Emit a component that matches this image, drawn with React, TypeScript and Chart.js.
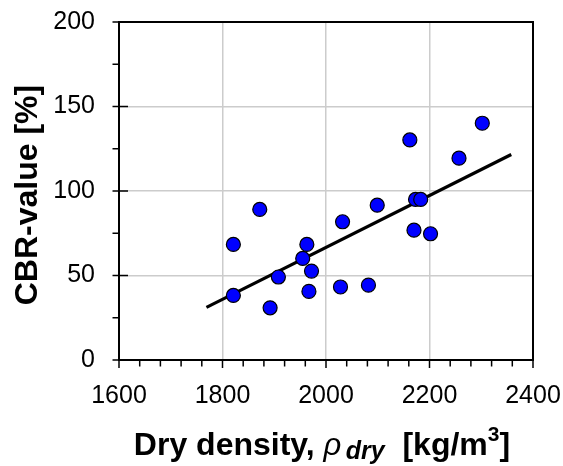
import React, { useEffect, useRef } from "react";
import { Chart, registerables } from "chart.js";
Chart.register(...registerables);

const densityValues = [1821, 1821, 1872, 1892, 1908, 1955, 1963, 1972, 1967, 2028, 2032, 2082, 2099, 2162, 2173, 2183, 2170, 2202, 2257, 2302];
const cbrValues = [68.4, 38.2, 89.1, 30.9, 49.1, 60.1, 68.4, 52.6, 40.6, 43.2, 81.8, 44.3, 91.6, 130.2, 95.0, 95.0, 76.8, 74.7, 119.4, 140.1];
const trendX = [1769, 2358];
const trendY = [31.1, 121.6];
const xTickValues = [1600, 1800, 2000, 2200, 2400];
const yTickValues = [0, 50, 100, 150, 200];
const xMinorStep = 40;
const yMinorStep = 25;

const FONT = "'Liberation Sans', Arial, sans-serif";

const framePlugin = {
  id: "frame",
  beforeDatasetsDraw(chart: any) {
    const { ctx, chartArea } = chart;
    const xs = chart.scales.x;
    const ys = chart.scales.y;
    const { left, right, top, bottom } = chartArea;
    ctx.save();
    ctx.strokeStyle = "#000";
    ctx.lineWidth = 2;
    ctx.strokeRect(left, top, right - left, bottom - top);
    ctx.lineWidth = 1.5;
    for (let v = xs.min; v <= xs.max + 0.001; v += xMinorStep) {
      const px = xs.getPixelForValue(v);
      const major = xTickValues.includes(v);
      ctx.beginPath();
      ctx.moveTo(px, bottom);
      ctx.lineTo(px, bottom + (major ? 8 : 6.5));
      ctx.stroke();
    }
    for (let v = ys.min; v <= ys.max + 0.001; v += yMinorStep) {
      const py = ys.getPixelForValue(v);
      const major = yTickValues.includes(v);
      ctx.beginPath();
      ctx.moveTo(left - 6.5, py);
      ctx.lineTo(major ? left + 9 : left, py);
      ctx.stroke();
    }
    ctx.restore();
  },
  afterDraw(chart: any) {
    const { ctx } = chart;
    ctx.save();
    ctx.fillStyle = "#000";
    ctx.save();
    ctx.translate(28, 195);
    ctx.rotate(-Math.PI / 2);
    ctx.font = `bold 32px ${FONT}`;
    ctx.textAlign = "center";
    ctx.textBaseline = "middle";
    ctx.fillText("CBR-value [%]", 0, 0);
    ctx.restore();
    const base = 455;
    const parts = [
      { t: "Dry density, ", f: `bold 32px ${FONT}`, dy: 0 },
      { t: "ρ", f: `italic 31px ${FONT}`, dy: 0 },
      { t: " ", f: `bold 16px ${FONT}`, dy: 0 },
      { t: "dry", f: `italic bold 25px ${FONT}`, dy: 4 },
      { t: "  [kg/m", f: `bold 32px ${FONT}`, dy: 0 },
      { t: "3", f: `bold 21px ${FONT}`, dy: -14 },
      { t: "]", f: `bold 32px ${FONT}`, dy: 0 },
    ];
    let total = 0;
    const widths = parts.map((p) => {
      ctx.font = p.f;
      const w = ctx.measureText(p.t).width;
      total += w;
      return w;
    });
    let x = 322 - total / 2;
    ctx.textAlign = "left";
    ctx.textBaseline = "alphabetic";
    parts.forEach((p, i) => {
      ctx.font = p.f;
      ctx.fillText(p.t, x, base + p.dy);
      x += widths[i];
    });
    ctx.restore();
  },
};

export default function App() {
  const ref = useRef<HTMLCanvasElement>(null);
  useEffect(() => {
    if (!ref.current) return;
    const chart = new Chart(ref.current, {
      type: "scatter",
      data: {
        datasets: [
          {
            type: "scatter",
            data: densityValues.map((d, i) => ({ x: d, y: cbrValues[i] })),
            backgroundColor: "#0000ff",
            borderColor: "#000",
            borderWidth: 1.2,
            pointRadius: 7,
            order: 0,
          },
          {
            type: "line",
            data: trendX.map((d, i) => ({ x: d, y: trendY[i] })),
            borderColor: "#000",
            borderWidth: 3.2,
            pointRadius: 0,
            showLine: true,
            fill: false,
            order: 1,
          } as any,
        ],
      },
      options: {
        animation: false,
        responsive: false,
        devicePixelRatio: 1,
        layout: { padding: { top: 22, right: 30, left: 0, bottom: 0 } },
        plugins: { legend: { display: false }, tooltip: { enabled: false } },
        scales: {
          x: {
            type: "linear",
            min: 1600,
            max: 2400,
            afterFit: (s: any) => {
              s.height = 106;
              s.paddingLeft = 0;
              s.paddingRight = 0;
            },
            afterBuildTicks: (s: any) => {
              s.ticks = xTickValues.map((v) => ({ value: v }));
            },
            ticks: {
              callback: (v: any) => String(v),
              font: { family: FONT, size: 25 },
              color: "#000",
              padding: 21,
              maxRotation: 0,
            },
            grid: {
              color: (c: any) =>
                c.tick && (c.tick.value === 1600 || c.tick.value === 2400) ? "rgba(0,0,0,0)" : "#cccccc",
              lineWidth: 1.5,
              drawTicks: false,
            },
            border: { display: false },
          },
          y: {
            type: "linear",
            min: 0,
            max: 200,
            afterFit: (s: any) => {
              s.width = 119;
              s.paddingTop = 0;
              s.paddingBottom = 0;
            },
            afterBuildTicks: (s: any) => {
              s.ticks = yTickValues.map((v) => ({ value: v }));
            },
            ticks: {
              callback: (v: any) => String(v),
              font: { family: FONT, size: 25 },
              color: "#000",
              padding: 24,
            },
            grid: {
              color: (c: any) =>
                c.tick && (c.tick.value === 0 || c.tick.value === 200) ? "rgba(0,0,0,0)" : "#cccccc",
              lineWidth: 1.5,
              drawTicks: false,
            },
            border: { display: false },
          },
        },
      },
      plugins: [framePlugin],
    });
    return () => chart.destroy();
  }, []);
  return (
    <div style={{ position: "absolute", left: 0, top: 0, width: 563, height: 466, background: "#fff" }}>
      <canvas ref={ref} width={563} height={466} style={{ display: "block" }} />
    </div>
  );
}
